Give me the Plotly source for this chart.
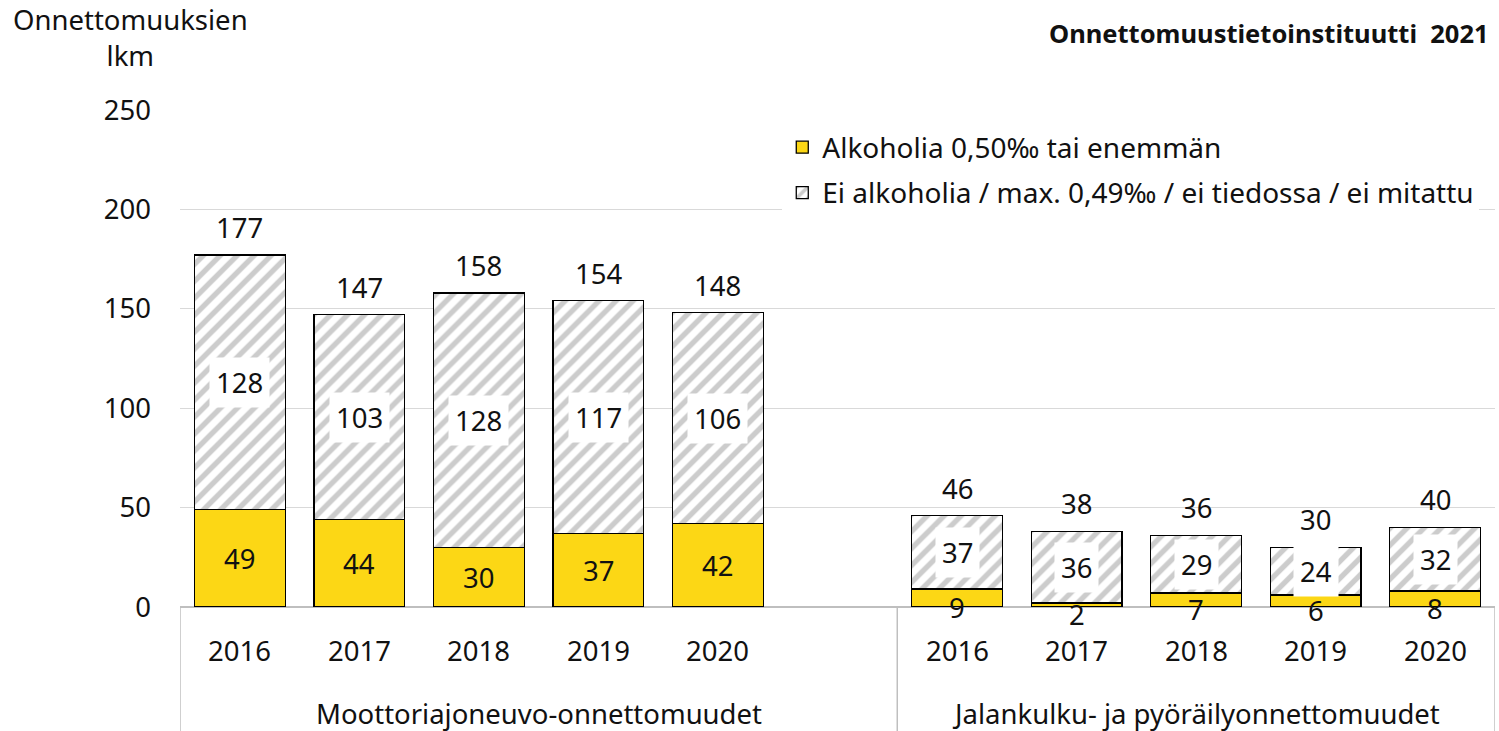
import plotly.graph_objects as go

years = ["2016", "2017", "2018", "2019", "2020"]
groups = ["Moottoriajoneuvo-onnettomuudet", "Jalankulku- ja pyöräilyonnettomuudet"]
alcohol_motor = [49, 44, 30, 37, 42]
other_motor = [128, 103, 128, 117, 106]
alcohol_ped = [9, 2, 7, 6, 8]
other_ped = [37, 36, 29, 24, 32]
series_names = ["Alkoholia 0,50‰ tai enemmän", "Ei alkoholia / max. 0,49‰ / ei tiedossa / ei mitattu"]
y_ticks = [0, 50, 100, 150, 200, 250]
title_text = "Onnettomuustietoinstituutti  2021"
y_title = "Onnettomuuksien<br>lkm"

FONT = "Noto Sans"
FS = 27.5
YELLOW = "#FCD715"
HATCH = "#9a9a9a"

# positions: group 1 at slots 0..4, empty slot 5, group 2 at 6..10
xpos = list(range(0, 5)) + list(range(6, 11))
alc = alcohol_motor + alcohol_ped
oth = other_motor + other_ped
tot = [a + o for a, o in zip(alc, oth)]

fig = go.Figure()
fig.add_trace(go.Bar(
    x=xpos, y=alc, name=series_names[0], width=0.76, legendgroup="a",
    marker=dict(color=YELLOW, line=dict(color="#000000", width=1.3)),
    hoverinfo="skip"))
fig.add_trace(go.Bar(
    x=xpos, y=oth, name=series_names[1], width=0.76, legendgroup="b",
    marker=dict(color="white", line=dict(color="#000000", width=1.3),
                pattern=dict(shape="/", fgcolor=HATCH, bgcolor="white", size=12, solidity=0.45)),
    hoverinfo="skip"))

txtfont = dict(size=FS, color="#111", family=FONT)
ann = []
for x, a, o, t in zip(xpos, alc, oth, tot):
    ann.append(dict(x=x, y=t, xref="x", yref="y", text=str(t), showarrow=False,
                    yanchor="bottom", yshift=7, font=txtfont))
    ann.append(dict(x=x, y=a + o / 2, xref="x", yref="y", text=str(o), showarrow=False,
                    yanchor="middle", bgcolor="white", borderpad=6, font=txtfont))
    ann.append(dict(x=x, y=a / 2, xref="x", yref="y", text=str(a), showarrow=False,
                    yanchor="middle", yshift=(-9 if a < 15 else 0), font=txtfont))
for x, yr in zip(xpos, years + years):
    ann.append(dict(x=x, y=-0.088, xref="x", yref="paper", text=yr, showarrow=False,
                    yanchor="middle", font=txtfont))
ann.append(dict(x=2.5, y=-0.213, xref="x", yref="paper", text=groups[0], showarrow=False,
                yanchor="middle", font=txtfont))
ann.append(dict(x=8, y=-0.213, xref="x", yref="paper", text=groups[1], showarrow=False,
                yanchor="middle", font=txtfont))
ann.append(dict(x=-0.038, y=1.143, xref="paper", yref="paper", text=y_title, showarrow=False,
                xanchor="center", yanchor="middle", align="center", font=txtfont))
ann.append(dict(x=0.997, y=1.152, xref="paper", yref="paper", text="<b>" + title_text + "</b>",
                showarrow=False, xanchor="right", yanchor="middle",
                font=dict(size=25.5, color="#111", family=FONT)))

shapes = []
for sx in [-0.5, 5.5, 10.5]:
    shapes.append(dict(type="line", xref="x", yref="paper", x0=sx, x1=sx, y0=0, y1=-0.25,
                       line=dict(color="#bfbfbf", width=1.5)))

fig.update_layout(
    barmode="stack",
    width=1499, height=731,
    margin=dict(l=180, r=4, t=109, b=124),
    paper_bgcolor="white", plot_bgcolor="white",
    font=dict(family=FONT, size=FS, color="#111"),
    showlegend=True,
    legend=dict(x=0.458, y=0.973, xanchor="left", yanchor="top", bgcolor="white",
                traceorder="grouped", tracegroupgap=6,
                font=dict(size=28, color="#111", family=FONT)),
    xaxis=dict(range=[-0.5, 10.5], showticklabels=False, showgrid=False, zeroline=False,
               showline=False, fixedrange=True),
    yaxis=dict(range=[0, 250.5], tickvals=y_ticks, showgrid=True, gridcolor="#d9d9d9",
               gridwidth=1, zeroline=True, zerolinecolor="#bfbfbf", zerolinewidth=1.5,
               showline=False, ticks="", ticklabelstandoff=28, tickfont=txtfont),
    annotations=ann,
    shapes=shapes,
)
fig.write_html("out.html", config={"displayModeBar": False},
               post_script="document.body.style.margin='0';document.body.style.overflow='hidden';")
